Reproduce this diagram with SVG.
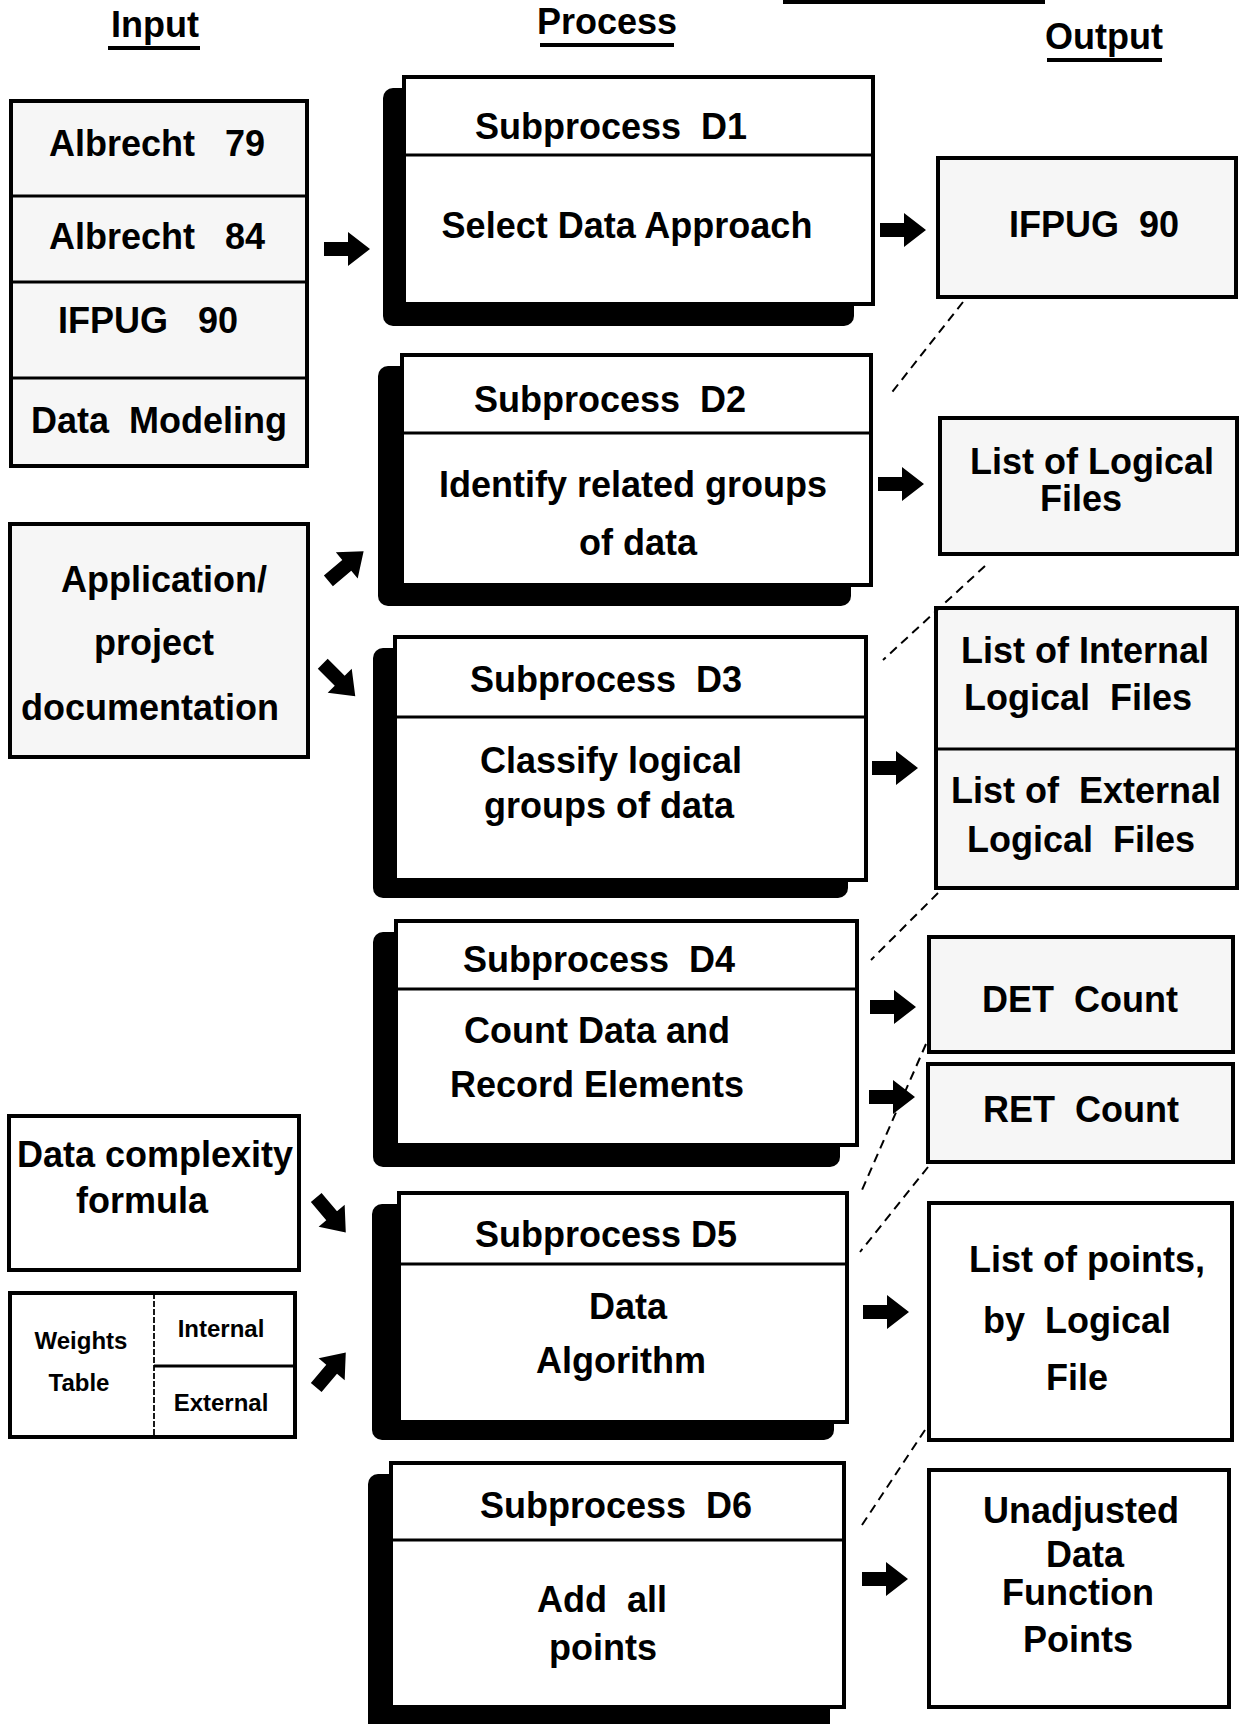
<svg xmlns="http://www.w3.org/2000/svg" xmlns:xlink="http://www.w3.org/1999/xlink" width="1240" height="1724" viewBox="0 0 1240 1724">
<style>
text{font-family:"Liberation Sans",Arial,sans-serif;font-weight:bold;font-size:36px;fill:#000;text-anchor:middle}
.hdr{font-size:36px}
.sm{font-size:24px}
.box{fill:#fff;stroke:#000;stroke-width:4}
.stip{fill:#f6f6f6;stroke:#000;stroke-width:4}
.div{stroke:#000;stroke-width:3;fill:none}
.thin{stroke:#000;stroke-width:1.8;fill:none}
.shadow{fill:#000}
.dash{stroke:#000;stroke-width:2;stroke-dasharray:9 6;fill:none}
.ul{stroke:#000;stroke-width:4}
</style>
<defs>
<path id="arr" d="M-23,-7 L1,-7 L1,-17 L23,0 L1,17 L1,7 L-23,7 Z" fill="#000"/>
</defs>
<rect x="783" y="0" width="262" height="4" fill="#000"/>
<g id="headers">
<text class="hdr" x="155" y="37">Input</text>
<line class="ul" x1="108" y1="48" x2="200" y2="48"/>
<text class="hdr" x="607" y="34">Process</text>
<line class="ul" x1="540" y1="45" x2="674" y2="45"/>
<text class="hdr" x="1104" y="49">Output</text>
<line class="ul" x1="1047" y1="60" x2="1162" y2="60"/>
</g>
<g id="input-methods">
<rect class="stip" x="11" y="101" width="296" height="365"/>
<line class="div" x1="11" y1="196" x2="307" y2="196"/>
<line class="div" x1="11" y1="282" x2="307" y2="282"/>
<line class="div" x1="11" y1="378" x2="307" y2="378"/>
<text x="157" y="156" xml:space="preserve">Albrecht   79</text>
<text x="157" y="249" xml:space="preserve">Albrecht   84</text>
<text x="148" y="333" xml:space="preserve">IFPUG   90</text>
<text x="159" y="433" xml:space="preserve">Data  Modeling</text>
</g>
<g id="input-docs">
<rect class="stip" x="10" y="524" width="298" height="233"/>
<text x="164" y="592">Application/</text>
<text x="154" y="655">project</text>
<text x="150" y="720">documentation</text>
</g>
<g id="input-formula">
<rect class="box" x="9" y="1116" width="290" height="154"/>
<text x="155" y="1167">Data complexity</text>
<text x="142" y="1213">formula</text>
</g>
<g id="input-weights">
<rect class="box" x="10" y="1293" width="285" height="144"/>
<line class="thin" x1="154" y1="1293" x2="154" y2="1437" stroke-dasharray="6 2"/>
<line class="div" x1="154" y1="1366" x2="295" y2="1366"/>
<text class="sm" x="81" y="1349">Weights</text>
<text class="sm" x="79" y="1391">Table</text>
<text class="sm" x="221" y="1337">Internal</text>
<text class="sm" x="221" y="1411">External</text>
</g>
<g id="D1">
<rect class="shadow" x="383" y="88" width="471" height="238" rx="10"/>
<rect class="box" x="404" y="77" width="469" height="227"/>
<line class="div" x1="404" y1="155" x2="873" y2="155"/>
<text x="611" y="139" xml:space="preserve">Subprocess  D1</text>
<text x="627" y="238">Select Data Approach</text>
</g>
<g id="D2">
<rect class="shadow" x="378" y="366" width="473" height="240" rx="10"/>
<rect class="box" x="402" y="355" width="469" height="230"/>
<line class="div" x1="402" y1="433" x2="871" y2="433"/>
<text x="610" y="412" xml:space="preserve">Subprocess  D2</text>
<text x="633" y="497">Identify related groups</text>
<text x="638" y="555">of data</text>
</g>
<g id="D3">
<rect class="shadow" x="373" y="648" width="475" height="250" rx="10"/>
<rect class="box" x="395" y="637" width="471" height="243"/>
<line class="div" x1="395" y1="717" x2="866" y2="717"/>
<text x="606" y="692" xml:space="preserve">Subprocess  D3</text>
<text x="611" y="773">Classify logical</text>
<text x="609" y="818">groups of data</text>
</g>
<g id="D4">
<rect class="shadow" x="373" y="932" width="467" height="235" rx="10"/>
<rect class="box" x="396" y="921" width="461" height="224"/>
<line class="div" x1="396" y1="989" x2="857" y2="989"/>
<text x="599" y="972" xml:space="preserve">Subprocess  D4</text>
<text x="597" y="1043">Count Data and</text>
<text x="597" y="1097">Record Elements</text>
</g>
<g id="D5">
<rect class="shadow" x="372" y="1204" width="462" height="236" rx="10"/>
<rect class="box" x="399" y="1193" width="448" height="229"/>
<line class="div" x1="399" y1="1264" x2="847" y2="1264"/>
<text x="606" y="1247">Subprocess D5</text>
<text x="628" y="1319">Data</text>
<text x="621" y="1373">Algorithm</text>
</g>
<g id="D6">
<rect class="shadow" x="368" y="1474" width="462" height="260" rx="10"/>
<rect class="box" x="391" y="1463" width="453" height="244"/>
<line class="div" x1="391" y1="1540" x2="844" y2="1540"/>
<text x="616" y="1518" xml:space="preserve">Subprocess  D6</text>
<text x="602" y="1612" xml:space="preserve">Add  all</text>
<text x="603" y="1660">points</text>
</g>
<g id="out-ifpug">
<rect class="stip" x="938" y="158" width="298" height="139"/>
<text x="1094" y="237" xml:space="preserve">IFPUG  90</text>
</g>
<g id="out-logical">
<rect class="stip" x="940" y="418" width="297" height="136"/>
<text x="1092" y="474">List of Logical</text>
<text x="1081" y="511">Files</text>
</g>
<g id="out-intext">
<rect class="stip" x="936" y="608" width="301" height="280"/>
<line class="div" x1="936" y1="749" x2="1237" y2="749"/>
<text x="1085" y="663">List of Internal</text>
<text x="1078" y="710" xml:space="preserve">Logical  Files</text>
<text x="1086" y="803" xml:space="preserve">List of  External</text>
<text x="1081" y="852" xml:space="preserve">Logical  Files</text>
</g>
<g id="out-det">
<rect class="stip" x="929" y="937" width="304" height="115"/>
<text x="1080" y="1012" xml:space="preserve">DET  Count</text>
</g>
<g id="out-ret">
<rect class="stip" x="928" y="1064" width="305" height="98"/>
<text x="1081" y="1122" xml:space="preserve">RET  Count</text>
</g>
<g id="out-points">
<rect class="box" x="929" y="1203" width="303" height="237"/>
<text x="1087" y="1272">List of points,</text>
<text x="1077" y="1333" xml:space="preserve">by  Logical</text>
<text x="1077" y="1390">File</text>
</g>
<g id="out-unadj">
<rect class="box" x="929" y="1470" width="300" height="237"/>
<text x="1081" y="1523">Unadjusted</text>
<text x="1085" y="1567">Data</text>
<text x="1078" y="1605">Function</text>
<text x="1078" y="1652">Points</text>
</g>
<g id="connectors">
<use xlink:href="#arr" transform="translate(347,249)"/>
<use xlink:href="#arr" transform="translate(903,230)"/>
<use xlink:href="#arr" transform="translate(901,484)"/>
<use xlink:href="#arr" transform="translate(346,566) rotate(-40)"/>
<use xlink:href="#arr" transform="translate(339,680) rotate(45)"/>
<use xlink:href="#arr" transform="translate(895,768)"/>
<use xlink:href="#arr" transform="translate(893,1007)"/>
<use xlink:href="#arr" transform="translate(892,1097)"/>
<use xlink:href="#arr" transform="translate(331,1215) rotate(50)"/>
<use xlink:href="#arr" transform="translate(331,1370) rotate(-50)"/>
<use xlink:href="#arr" transform="translate(886,1312)"/>
<use xlink:href="#arr" transform="translate(885,1579)"/>
<line class="dash" x1="963" y1="302" x2="889" y2="396"/>
<line class="dash" x1="985" y1="566" x2="883" y2="660"/>
<line class="dash" x1="938" y1="893" x2="871" y2="960"/>
<line class="dash" x1="926" y1="1044" x2="862" y2="1190"/>
<line class="dash" x1="928" y1="1167" x2="860" y2="1252"/>
<line class="dash" x1="925" y1="1430" x2="860" y2="1528"/>
</g>
</svg>
